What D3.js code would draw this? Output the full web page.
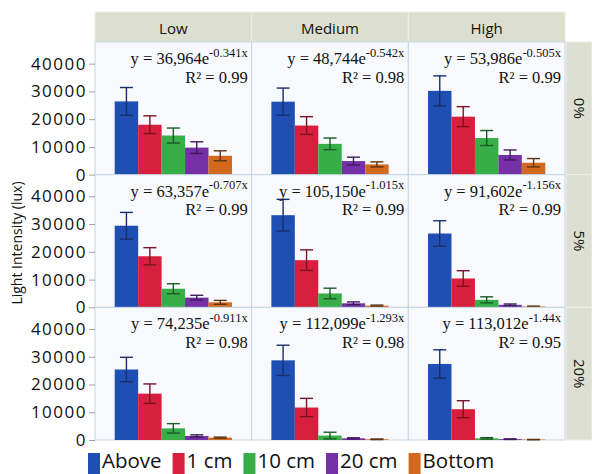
<!DOCTYPE html>
<html>
<head>
<meta charset="utf-8">
<script src="https://cdn.jsdelivr.net/npm/d3@7"></script>
<style>
  html, body { margin: 0; padding: 0; background: #ffffff; }
  svg { display: block; }
</style>
</head>
<body>
<svg id="chart" width="592" height="474"></svg>
<script>
// Depth positions of the light sensor (bar categories)
const depths = ["Above", "1 cm", "10 cm", "20 cm", "Bottom"];
// Column facets: light level
const levels = ["Low", "Medium", "High"];
// Row facets: shading
const shades = ["0%", "5%", "20%"];
// Y-axis tick values
const yTicks = [0, 10000, 20000, 30000, 40000];

// Mean light intensity (lux) per shade row, per level column, per depth
const meanLux = [
  [ [26400, 18000, 14100, 9750, 6800],
    [26300, 17700, 11100, 4900, 3700],
    [30200, 20900, 13200, 7100, 4300] ],
  [ [29400, 18400, 6700, 3500, 1800],
    [33200, 17000, 5000, 1450, 600],
    [26600, 10400, 2700, 900, 300] ],
  [ [25400, 16700, 4200, 1450, 850],
    [28700, 11700, 1600, 600, 250],
    [27400, 11100, 600, 300, 150] ]
];
// Error bar half-widths (lux)
const errLux = [
  [ [5000, 3200, 2700, 2100, 1800],
    [4900, 3200, 2100, 1400, 900],
    [5400, 3600, 2700, 1800, 1500] ],
  [ [4800, 3100, 1800, 850, 700],
    [5700, 3700, 1900, 500, 200],
    [4600, 2800, 1100, 300, 150] ],
  [ [4400, 3500, 1700, 400, 200],
    [5450, 3300, 1200, 200, 100],
    [5100, 3050, 250, 100, 50] ]
];
// Exponential fit y = a·e^(b·x) and its R² for each panel
const fitA = [[36964, 48744, 53986], [63357, 105150, 91602], [74235, 112099, 113012]];
const fitB = [[-0.341, -0.542, -0.505], [-0.707, -1.015, -1.156], [-0.911, -1.293, -1.44]];
const fitR2 = [[0.99, 0.98, 0.99], [0.99, 0.99, 0.99], [0.98, 0.98, 0.95]];

const barColors = ["#1f4fb3", "#d71f3e", "#38ae48", "#7530a6", "#d2691f"];
const errColors = ["#1a2e6e", "#7a1424", "#1d5a27", "#3d1a5c", "#5e3312"];

// Layout
const plotL = 95, plotR = 565, plotT = 42, plotB = 440, headerT = 12, stripR = 592;
const colW = (plotR - plotL) / levels.length;
const rowH = (plotB - plotT) / shades.length;

const svg = d3.select("#chart");

const colX = d3.scaleBand().domain(levels).range([plotL, plotR]);
const rowY = d3.scaleBand().domain(shades).range([plotT, plotB]);
const x = d3.scaleBand().domain(depths).range([0, colW]).paddingInner(0).paddingOuter(0.84);
const y = d3.scaleLinear().domain([0, 47800]).range([rowH, 0]);

// Column header strip
const header = svg.append("g");
header.selectAll("rect").data(levels).join("rect")
  .attr("x", d => colX(d)).attr("y", headerT)
  .attr("width", colW).attr("height", plotT - headerT)
  .attr("fill", "#dcdfd0").attr("stroke", "#eef0e8").attr("stroke-width", 1);
header.selectAll("text").data(levels).join("text")
  .attr("x", d => colX(d) + colW / 2).attr("y", headerT + 22)
  .attr("text-anchor", "middle")
  .attr("font-family", "'Open Sans', sans-serif").attr("font-size", 15)
  .attr("fill", "#111").text(d => d);

// Row strip on the right
const strip = svg.append("g");
strip.selectAll("rect").data(shades).join("rect")
  .attr("x", plotR + 1).attr("y", d => rowY(d))
  .attr("width", stripR - plotR - 1).attr("height", rowH)
  .attr("fill", "#dcdfd2").attr("stroke", "#eef0e8").attr("stroke-width", 1);
strip.selectAll("text").data(shades).join("text")
  .attr("transform", d => `translate(${(plotR + stripR) / 2 - 5},${rowY(d) + rowH / 2}) rotate(90)`)
  .attr("text-anchor", "middle")
  .attr("font-family", "'Open Sans', sans-serif").attr("font-size", 15)
  .attr("fill", "#111").text(d => d);

// Panels
shades.forEach((shade, r) => {
  levels.forEach((level, c) => {
    const g = svg.append("g").attr("transform", `translate(${colX(level)},${rowY(shade)})`);
    g.append("rect").attr("width", colW).attr("height", rowH)
      .attr("fill", "#f8f9fc").attr("stroke", "#c3d5e3").attr("stroke-width", 1);

    const vals = depths.map((d, i) => ({ depth: d, i, v: meanLux[r][c][i], e: errLux[r][c][i] }));

    g.selectAll("rect.bar").data(vals).join("rect").attr("class", "bar")
      .attr("x", d => x(d.depth)).attr("width", x.bandwidth())
      .attr("y", d => y(d.v)).attr("height", d => y(0) - y(d.v))
      .attr("fill", d => barColors[d.i]);

    const cap = 6.5;
    const eb = g.selectAll("g.err").data(vals).join("g").attr("class", "err")
      .attr("stroke", d => errColors[d.i]).attr("stroke-width", 1.4);
    eb.append("line")
      .attr("x1", d => x(d.depth) + x.bandwidth() / 2).attr("x2", d => x(d.depth) + x.bandwidth() / 2)
      .attr("y1", d => y(d.v + d.e)).attr("y2", d => y(Math.max(0, d.v - d.e)));
    eb.append("line")
      .attr("x1", d => x(d.depth) + x.bandwidth() / 2 - cap).attr("x2", d => x(d.depth) + x.bandwidth() / 2 + cap)
      .attr("y1", d => y(d.v + d.e)).attr("y2", d => y(d.v + d.e));
    eb.append("line")
      .attr("x1", d => x(d.depth) + x.bandwidth() / 2 - cap).attr("x2", d => x(d.depth) + x.bandwidth() / 2 + cap)
      .attr("y1", d => y(Math.max(0, d.v - d.e))).attr("y2", d => y(Math.max(0, d.v - d.e)));

    // Fitted equation and R²
    const eq = g.append("text")
      .attr("x", colW - 4).attr("y", 22).attr("text-anchor", "end")
      .attr("font-family", "'Liberation Serif', 'Times New Roman', serif")
      .attr("font-size", 16.5).attr("fill", "#111");
    eq.append("tspan").text("y = " + d3.format(",")(fitA[r][c]) + "e");
    eq.append("tspan").attr("dy", -7.5).attr("font-size", 12.5).text(String(fitB[r][c]) + "x");
    g.append("text")
      .attr("x", colW - 4).attr("y", 40.5).attr("text-anchor", "end")
      .attr("font-family", "'Liberation Serif', 'Times New Roman', serif")
      .attr("font-size", 16.5).attr("fill", "#111")
      .text("R² = " + d3.format(".2f")(fitR2[r][c]));
  });

  // Y axis for the row
  const ax = svg.append("g").attr("transform", `translate(${plotL},${rowY(shade)})`)
    .call(d3.axisLeft(y).tickValues(yTicks).tickFormat(d3.format("d")).tickSize(6).tickPadding(2));
  ax.select(".domain").remove();
  ax.selectAll(".tick line").attr("stroke", "#9aa4ad");
  ax.selectAll(".tick text")
    .attr("font-family", "'Open Sans', sans-serif").attr("font-size", 17)
    .attr("letter-spacing", 1.5).attr("fill", "#111");
});

// Y axis title
svg.append("text")
  .attr("transform", `translate(22,${(plotT + plotB) / 2 + 2}) rotate(-90)`)
  .attr("text-anchor", "middle")
  .attr("font-family", "'Open Sans', sans-serif").attr("font-size", 14)
  .attr("fill", "#111").text("Light Intensity (lux)");

// Legend
const legend = svg.append("g").attr("transform", "translate(88,0)");
let lx = 0;
depths.forEach((d, i) => {
  legend.append("rect").attr("x", lx).attr("y", 453).attr("width", 12).attr("height", 21)
    .attr("fill", barColors[i]);
  const t = legend.append("text").attr("x", lx + 14).attr("y", 468)
    .attr("font-family", "'Open Sans', sans-serif").attr("font-size", 20.5)
    .attr("fill", "#111").text(d);
  lx += 14 + t.node().getComputedTextLength() + 11;
});
</script>
</body>
</html>
